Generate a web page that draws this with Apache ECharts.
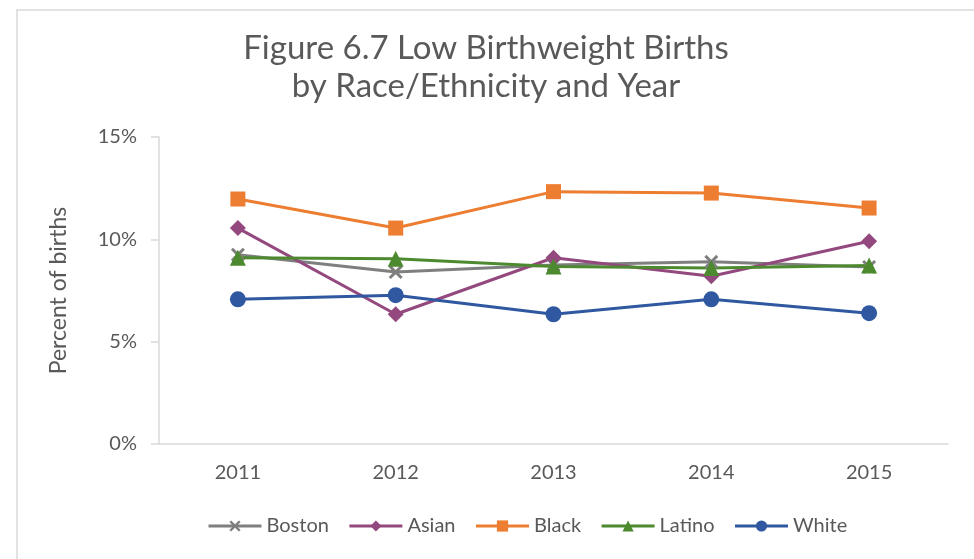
<!DOCTYPE html>
<html><head><meta charset="utf-8">
<script src="https://cdn.jsdelivr.net/npm/echarts@6/dist/echarts.min.js"></script>
<style>html,body{margin:0;padding:0;background:#fff}#c{width:974px;height:559px}</style>
</head><body><div id="c"></div>
<script>
const years = ['2011','2012','2013','2014','2015'];
const boston = [9.25, 8.4, 8.75, 8.9, 8.65];
const asian = [10.55, 6.34, 9.1, 8.2, 9.91];
const black = [11.97, 10.55, 12.33, 12.26, 11.53];
const latino = [9.1, 9.05, 8.67, 8.6, 8.72];
const white = [7.07, 7.27, 6.34, 7.07, 6.39];
const yTicks = [0, 5, 10, 15];

const xPath = 'path://M0,3 L3,0 L10,7 L17,0 L20,3 L13,10 L20,17 L17,20 L10,13 L3,20 L0,17 L7,10 Z';
const FONT = 'Lato';
function mk(name, data, color, symbol, size){
  return {name, type:'line', data, symbol, symbolSize:size, showSymbol:true,
    lineStyle:{color, width:3}, itemStyle:{color, borderWidth:0}, color,
    emphasis:{disabled:true}, z: 2};
}
const chart = echarts.init(document.getElementById('c'));
chart.setOption({
  animation:false,
  textStyle:{fontFamily:FONT},
  graphic:[{type:'rect', shape:{x:17,y:10,width:1000,height:600}, style:{fill:'none', stroke:'#d9d9d9', lineWidth:1.5}, silent:true}],
  title:{text:'Figure 6.7 Low Birthweight Births\nby Race/Ethnicity and Year', left:481, textAlign:'center', top:24,
    textStyle:{fontFamily:FONT, fontSize:33, fontWeight:'normal', color:'#595959', lineHeight:38}},
  grid:{left:159, right:26, top:137, bottom:115},
  xAxis:{type:'category', data:years, boundaryGap:true,
    axisLine:{lineStyle:{color:'#d9d9d9', width:1.5}}, axisTick:{show:false},
    axisLabel:{color:'#595959', fontSize:20, margin:19, fontFamily:FONT}},
  yAxis:{type:'value', min:0, max:15, interval:5,
    name:'Percent of births', nameLocation:'middle', nameGap:89, nameRotate:90,
    nameTextStyle:{color:'#595959', fontSize:23, fontFamily:FONT},
    axisLine:{show:true, lineStyle:{color:'#d9d9d9', width:1.5}},
    axisTick:{show:true, inside:false, length:8, lineStyle:{color:'#d9d9d9', width:1.5}},
    splitLine:{show:false},
    axisLabel:{color:'#595959', fontSize:20, margin:22, fontFamily:FONT, formatter:v=>v+'%'}},
  legend:{top:511, left:202, itemWidth:53, itemHeight:14, itemGap:19,
    lineStyle:{width:3},
    textStyle:{color:'#595959', fontSize:20, fontFamily:FONT},
    data:['Boston','Asian','Black','Latino','White']},
  series:[
    mk('Boston', boston, '#7f7f7f', xPath, 14),
    mk('Asian', asian, '#93487e', 'diamond', 16),
    mk('Black', black, '#ed7d31', 'rect', 15),
    mk('Latino', latino, '#4d8a2f', 'triangle', 16),
    mk('White', white, '#2f58a0', 'circle', 16)
  ]
});
</script></body></html>
